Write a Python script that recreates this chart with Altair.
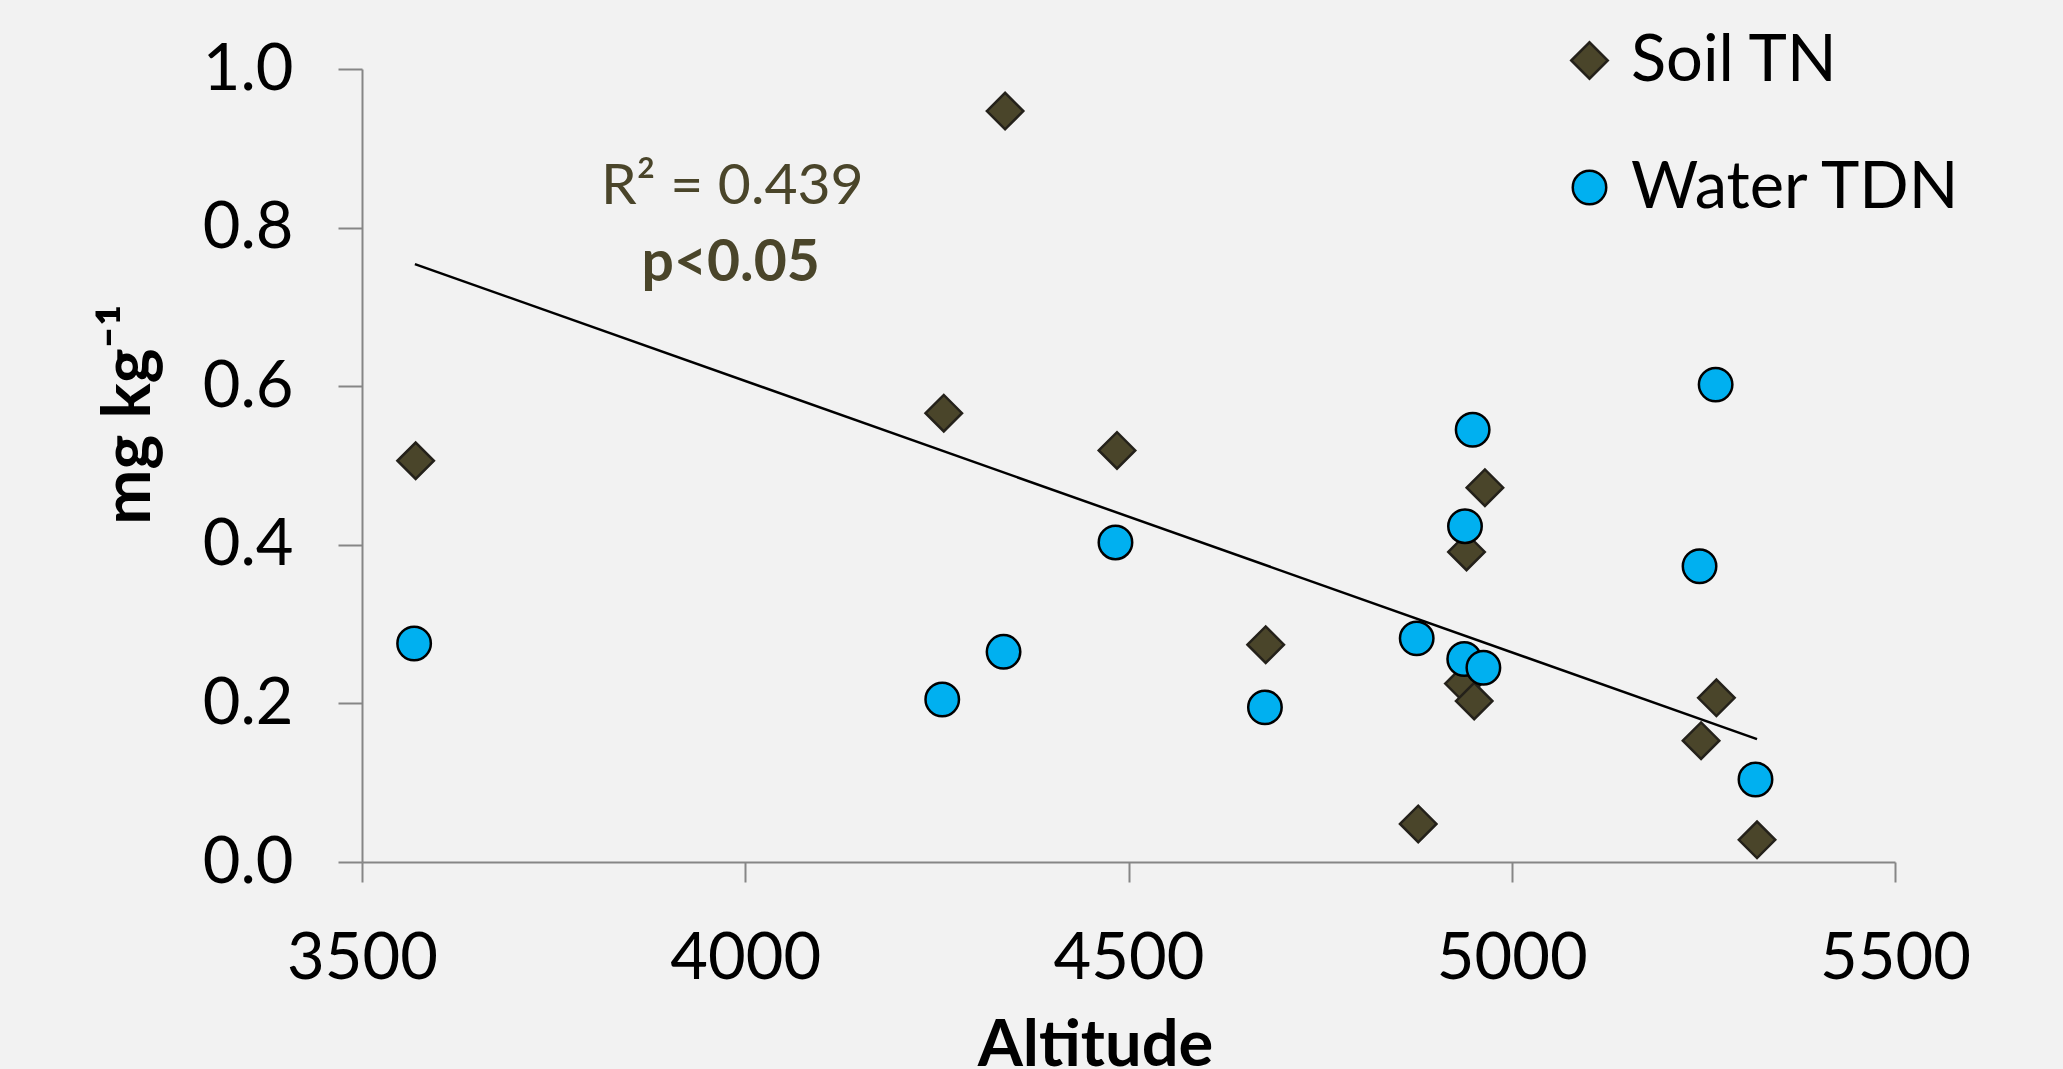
import altair as alt
import pandas as pd

# ---- data ----
soil_alt = [3570, 4259, 4339, 4485, 4679, 4878, 4941, 4937, 4951, 4965, 5247, 5267, 5320]
soil_tn = [0.506, 0.566, 0.947, 0.519, 0.274, 0.048, 0.391, 0.225, 0.203, 0.472, 0.153, 0.207, 0.028]

water_alt = [3568, 4257, 4337, 4483, 4678, 4876, 4939, 4949, 4938, 4963, 5245, 5266, 5318]
water_tdn = [0.2755, 0.205, 0.265, 0.403, 0.195, 0.282, 0.4235, 0.545, 0.256, 0.245, 0.373, 0.602, 0.104]

trend_alt = [3569, 5320]
trend_val = [0.754, 0.155]

x_ticks = [3500, 4000, 4500, 5000, 5500]
y_ticks = [0.0, 0.2, 0.4, 0.6, 0.8, 1.0]

series_names = ["Soil TN", "Water TDN"]
series_fill = ["#4A452A", "#00B0F0"]
series_stroke = ["#24211A", "#000000"]
series_shape = ["diamond", "circle"]
series_size = [1330, 1120]

r2_text = ["R\u00b2 = 0.439"]
r2_alt = [3983]
r2_val = [0.8297]
p_text = ["p<0.05"]
p_alt = [3981]
p_val = [0.7325]

FONT = "Lato, Noto Sans, DejaVu Sans"
AXIS_GRAY = "#868686"

rows = []
for a, v in zip(soil_alt, soil_tn):
    rows.append({"series": "Soil TN", "alt": a, "val": v})
for a, v in zip(water_alt, water_tdn):
    rows.append({"series": "Water TDN", "alt": a, "val": v})
pts_df = pd.DataFrame(rows)
trend_df = pd.DataFrame({"alt": trend_alt, "val": trend_val})
r2_df = pd.DataFrame({"alt": r2_alt, "val": r2_val, "text": r2_text})
p_df = pd.DataFrame({"alt": p_alt, "val": p_val, "text": p_text})

x_scale = alt.Scale(domain=[3500, 5500], nice=False, zero=False)
y_scale = alt.Scale(domain=[0, 1], nice=False, zero=True)

x_axis = alt.Axis(
    values=x_ticks, format="d", title="Altitude", grid=False,
    domainColor=AXIS_GRAY, domainWidth=2, tickColor=AXIS_GRAY, tickWidth=2,
    tickSize=20, labelFont=FONT, labelFontSize=65, labelColor="black",
    labelPadding=45, labelFlush=False, labelOverlap=False, labelBound=False,
    titleFont=FONT, titleFontSize=65, titleFontWeight="bold", titleColor="black",
    titleX=733, titleY=203, titleAlign="center", titleBaseline="alphabetic",
)
y_axis = alt.Axis(
    values=y_ticks, format=".1f", title="mg kg\u207b\u00b9", grid=False,
    domainColor=AXIS_GRAY, domainWidth=2, tickColor=AXIS_GRAY, tickWidth=2,
    tickSize=24, labelFont=FONT, labelFontSize=65, labelColor="black",
    labelPadding=45, labelFlush=False, labelOverlap=False, labelBound=False,
    titleFont=FONT, titleFontSize=66, titleFontWeight="bold", titleColor="black",
    titleX=-213, titleY=345, titleAlign="center", titleBaseline="alphabetic",
    titleAngle=270,
)

legend = alt.Legend(
    title=None, orient="none", legendX=1195, legendY=-41, padding=0, offset=0,
    labelFont=FONT, labelFontSize=65, labelColor="black", labelOffset=9,
    rowPadding=61, symbolStrokeWidth=2.5, labelLimit=0,
)

points = alt.Chart(pts_df).mark_point(filled=True, opacity=1, strokeWidth=2.5).encode(
    x=alt.X("alt:Q", scale=x_scale, axis=x_axis),
    y=alt.Y("val:Q", scale=y_scale, axis=y_axis),
    shape=alt.Shape("series:N", scale=alt.Scale(domain=series_names, range=series_shape), legend=legend),
    fill=alt.Fill("series:N", scale=alt.Scale(domain=series_names, range=series_fill), legend=legend),
    stroke=alt.Stroke("series:N", scale=alt.Scale(domain=series_names, range=series_stroke), legend=legend),
    size=alt.Size("series:N", scale=alt.Scale(domain=series_names, range=series_size), legend=legend),
)

trend = alt.Chart(trend_df).mark_line(color="black", strokeWidth=2.5).encode(
    x=alt.X("alt:Q", scale=x_scale),
    y=alt.Y("val:Q", scale=y_scale),
)

r2 = alt.Chart(r2_df).mark_text(
    font=FONT, fontSize=57, color="#4A452A", align="center", baseline="alphabetic"
).encode(x="alt:Q", y="val:Q", text="text:N")

pv = alt.Chart(p_df).mark_text(
    font=FONT, fontSize=57, fontWeight="bold", color="#4A452A", align="center", baseline="alphabetic"
).encode(x="alt:Q", y="val:Q", text="text:N")

chart = alt.layer(points, trend, r2, pv).properties(
    width=1533, height=793,
    autosize=alt.AutoSizeParams(type="none"),
    padding={"left": 362, "top": 69, "right": 168, "bottom": 207},
    background="#F2F2F2",
).configure_view(stroke=None)

chart.save("out.html", embed_options={"renderer": "svg", "actions": False})
